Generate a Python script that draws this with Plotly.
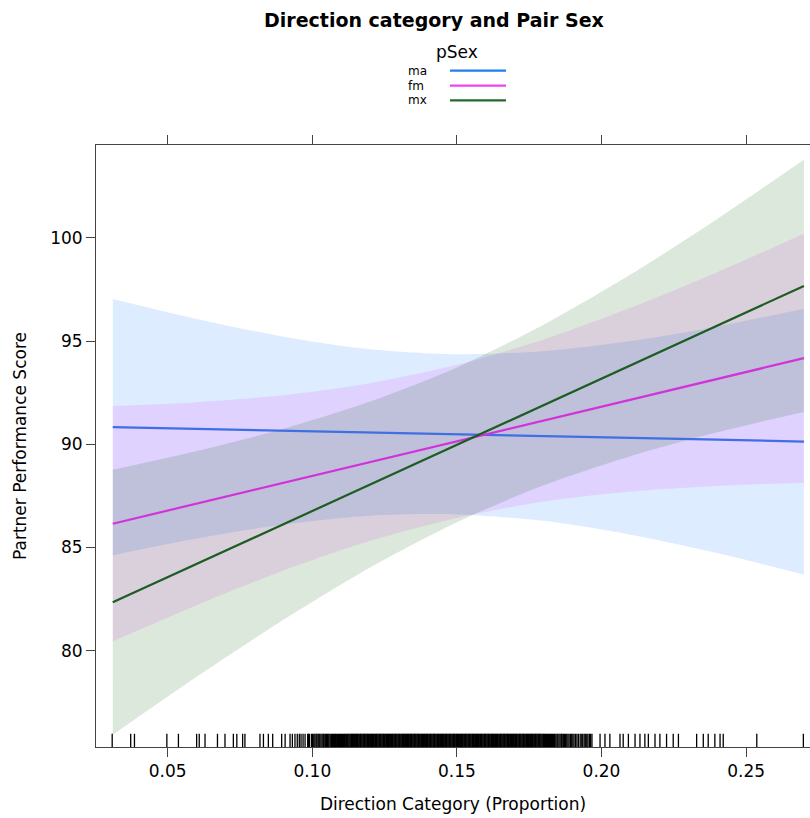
import plotly.graph_objects as go

# ---------------- data ----------------
groups = ["ma", "fm", "mx"]
x_grid = [0.031, 0.06, 0.09, 0.12, 0.15, 0.18, 0.21, 0.24, 0.27]

fit_ma = [90.83, 90.75, 90.66, 90.57, 90.48, 90.40, 90.31, 90.22, 90.13]
upper_ma = [97.04, 96.07, 95.21, 94.60, 94.36, 94.51, 95.00, 95.71, 96.57]
lower_ma = [84.62, 85.43, 86.11, 86.54, 86.60, 86.29, 85.62, 84.73, 83.69]

fit_fm = [86.15, 87.12, 88.13, 89.14, 90.14, 91.15, 92.16, 93.16, 94.17]
upper_fm = [91.85, 92.04, 92.38, 92.96, 93.85, 95.08, 96.61, 98.34, 100.20]
lower_fm = [80.45, 82.20, 83.88, 85.32, 86.43, 87.22, 87.71, 87.98, 88.14]

fit_mx = [82.34, 84.20, 86.12, 88.05, 89.97, 91.90, 93.82, 95.75, 97.67]
upper_mx = [88.76, 89.67, 90.75, 92.07, 93.72, 95.79, 98.22, 100.92, 103.78]
lower_mx = [75.92, 78.73, 81.49, 84.03, 86.22, 88.01, 89.42, 90.58, 91.56]

rug_x = [
    0.0308, 0.0372, 0.0385, 0.0497, 0.0537, 0.0600, 0.0609, 0.0629, 0.0672,
    0.0698, 0.0727, 0.0739, 0.0759, 0.0767, 0.0819, 0.0831, 0.0848, 0.0863,
    0.0894, 0.0906, 0.0923,
    0.0931, 0.0940, 0.0948, 0.0955, 0.0961, 0.0968, 0.0975, 0.0984, 0.0990,
    0.0997, 0.1005, 0.1013, 0.1020, 0.1026, 0.1034, 0.1041, 0.1049, 0.1055,
    0.1062, 0.1070, 0.1077, 0.1083, 0.1091, 0.1098, 0.1104, 0.1111, 0.1118,
    0.1124, 0.1130, 0.1136, 0.1142, 0.1147, 0.1153, 0.1158, 0.1164, 0.1169,
    0.1175, 0.1180, 0.1186, 0.1191, 0.1197, 0.1202, 0.1208, 0.1213, 0.1219,
    0.1224, 0.1230, 0.1235, 0.1241, 0.1246, 0.1252, 0.1257, 0.1263, 0.1268,
    0.1274, 0.1279, 0.1285, 0.1290, 0.1296, 0.1301, 0.1307, 0.1312, 0.1318,
    0.1323, 0.1329, 0.1334, 0.1340, 0.1345, 0.1351, 0.1356, 0.1362, 0.1367,
    0.1373, 0.1378, 0.1384, 0.1389, 0.1395, 0.1400, 0.1406, 0.1411, 0.1417,
    0.1422, 0.1428, 0.1433, 0.1439, 0.1444, 0.1450, 0.1455, 0.1461, 0.1466,
    0.1472, 0.1477, 0.1483, 0.1488, 0.1494, 0.1499, 0.1505, 0.1510, 0.1516,
    0.1521, 0.1527, 0.1532, 0.1538, 0.1543, 0.1549, 0.1554, 0.1560, 0.1565,
    0.1571, 0.1576, 0.1582, 0.1587, 0.1593, 0.1598, 0.1604, 0.1609, 0.1615,
    0.1620, 0.1626, 0.1631, 0.1637, 0.1642, 0.1648, 0.1653, 0.1659, 0.1664,
    0.1670, 0.1675, 0.1681, 0.1686, 0.1692, 0.1697, 0.1703, 0.1708, 0.1714,
    0.1719, 0.1725, 0.1730, 0.1736, 0.1741, 0.1747, 0.1752, 0.1758, 0.1763,
    0.1769, 0.1774, 0.1780, 0.1785, 0.1791, 0.1797, 0.1803, 0.1810, 0.1817,
    0.1824, 0.1831, 0.1838, 0.1846, 0.1853, 0.1861, 0.1868, 0.1876, 0.1884,
    0.1893, 0.1901, 0.1910, 0.1926, 0.1935, 0.1944, 0.1953, 0.1962,
    0.1995, 0.2012, 0.2029, 0.2064, 0.2075, 0.2093, 0.2116, 0.2133, 0.2150,
    0.2162, 0.2185, 0.2202, 0.2225, 0.2248, 0.2266, 0.2329, 0.2352, 0.2369,
    0.2392, 0.2410, 0.2421, 0.2537, 0.2698,
    # further observations in the dense middle of the distribution
    0.0987, 0.1001, 0.1009, 0.1016, 0.1023, 0.1030, 0.1038, 0.1045, 0.1052,
    0.1058, 0.1066, 0.1073, 0.1080, 0.1087, 0.1094, 0.1101, 0.1108, 0.1114,
    0.1121, 0.1127,
    0.1133, 0.1139, 0.1145, 0.1150, 0.1156, 0.1161, 0.1167, 0.1172, 0.1178,
    0.1183, 0.1189, 0.1194, 0.1200, 0.1205, 0.1211, 0.1216, 0.1222, 0.1227,
    0.1233, 0.1238, 0.1244, 0.1249, 0.1255, 0.1260, 0.1266, 0.1271, 0.1277,
    0.1282, 0.1288, 0.1293, 0.1299, 0.1304, 0.1310, 0.1315, 0.1321, 0.1326,
    0.1332, 0.1337, 0.1343, 0.1348, 0.1354, 0.1359, 0.1365, 0.1370, 0.1376,
    0.1381, 0.1387, 0.1392, 0.1398, 0.1403, 0.1409, 0.1414, 0.1420, 0.1425,
    0.1431, 0.1436, 0.1442, 0.1447, 0.1453, 0.1458, 0.1464, 0.1469, 0.1475,
    0.1480, 0.1486, 0.1491, 0.1497, 0.1502, 0.1508, 0.1513, 0.1519, 0.1524,
    0.1530, 0.1535, 0.1541, 0.1546, 0.1552, 0.1557, 0.1563, 0.1568, 0.1574,
    0.1579, 0.1585, 0.1590, 0.1596, 0.1601, 0.1607, 0.1612, 0.1618, 0.1623,
    0.1629, 0.1634, 0.1640, 0.1645, 0.1651, 0.1656, 0.1662, 0.1667, 0.1673,
    0.1678, 0.1684, 0.1689, 0.1695, 0.1700, 0.1706, 0.1711, 0.1717, 0.1722,
    0.1728, 0.1733, 0.1739, 0.1744, 0.1750, 0.1755, 0.1761, 0.1766, 0.1772,
    0.1777, 0.1783, 0.1788, 0.1794, 0.1800, 0.1806, 0.1813, 0.1820, 0.1827,
    0.1834, 0.1842, 0.1849, 0.1857, 0.1864, 0.1872, 0.1880, 0.1888, 0.1897,
    0.1905, 0.1915, 0.1920, 0.1930, 0.1940, 0.1949, 0.1958, 0.1967,
]

x_ticks = [0.05, 0.10, 0.15, 0.20, 0.25]
y_ticks = [80, 85, 90, 95, 100]

# ---------------- style ----------------
FONT = "DejaVu Sans, Liberation Sans, Arial, sans-serif"
line_colors = {"ma": "#3f6fe3", "fm": "#d233d8", "mx": "#1d5c22"}
legend_colors = {"ma": "#1f7ff0", "fm": "#f043f0", "mx": "#236b2c"}
band_colors = {
    "ma": "rgba(0,110,255,0.13)",
    "fm": "rgba(240,0,255,0.11)",
    "mx": "rgba(0,90,0,0.14)",
}

fits = {"ma": fit_ma, "fm": fit_fm, "mx": fit_mx}
uppers = {"ma": upper_ma, "fm": upper_fm, "mx": upper_mx}
lowers = {"ma": lower_ma, "fm": lower_fm, "mx": lower_mx}

W, H = 810, 818
ML, MR, MT, MB = 96, 0, 145, 71
PW, PH = W - ML - MR, H - MT - MB


def px_x(px):
    return (px - ML) / PW


def px_y(py):
    return (H - MB - py) / PH


fig = go.Figure()

for g in groups:
    fig.add_trace(go.Scatter(
        x=x_grid, y=lowers[g], mode="lines",
        line=dict(width=0, shape="spline", smoothing=0.8),
        hoverinfo="skip", showlegend=False,
    ))
    fig.add_trace(go.Scatter(
        x=x_grid, y=uppers[g], mode="lines", fill="tonexty",
        fillcolor=band_colors[g],
        line=dict(width=0, shape="spline", smoothing=0.8),
        hoverinfo="skip", showlegend=False,
    ))

for g in groups:
    fig.add_trace(go.Scatter(
        x=x_grid, y=fits[g], mode="lines", name=g,
        line=dict(color=line_colors[g], width=2.2),
        showlegend=False,
    ))

fig.add_trace(go.Scatter(
    x=rug_x, y=[0.0092] * len(rug_x), mode="markers", yaxis="y2",
    marker=dict(symbol="line-ns", size=11, line=dict(width=1.3, color="#000")),
    hoverinfo="skip", showlegend=False,
))

annotations = [
    dict(text="<b>Direction category and Pair Sex</b>", x=px_x(434), y=px_y(20),
         xref="paper", yref="paper", showarrow=False, xanchor="center", yanchor="middle",
         font=dict(family=FONT, size=19, color="#000")),
    dict(text="pSex", x=px_x(457), y=px_y(52), xref="paper", yref="paper",
         showarrow=False, xanchor="center", yanchor="middle",
         font=dict(family=FONT, size=17, color="#000")),
]
shapes = []
legend_rows = {"ma": 70.7, "fm": 85.7, "mx": 100.3}
for g in groups:
    annotations.append(dict(
        text=g, x=px_x(406), y=px_y(legend_rows[g]), xref="paper", yref="paper",
        showarrow=False, xanchor="left", yanchor="middle",
        font=dict(family=FONT, size=12, color="#000")))
    shapes.append(dict(
        type="line", xref="paper", yref="paper",
        x0=px_x(450), x1=px_x(506), y0=px_y(legend_rows[g]), y1=px_y(legend_rows[g]),
        line=dict(color=legend_colors[g], width=2.2)))

fig.update_layout(
    width=W, height=H,
    margin=dict(l=ML, r=MR, t=MT, b=MB, pad=0),
    paper_bgcolor="white", plot_bgcolor="white",
    font=dict(family=FONT, size=17, color="#000"),
    xaxis=dict(
        range=[0.0252, 0.2721], tickvals=x_ticks, ticktext=[f"{v:.2f}" for v in x_ticks],
        showline=True, linecolor="#444", linewidth=1, mirror="ticks",
        ticks="outside", ticklen=9, tickcolor="#444", showgrid=False, zeroline=False,
        title=dict(text="Direction Category (Proportion)", standoff=17,
                   font=dict(family=FONT, size=17)),
        tickfont=dict(family=FONT, size=17),
    ),
    yaxis=dict(
        range=[75.33, 104.5], tickvals=y_ticks,
        showline=True, linecolor="#444", linewidth=1, mirror=False,
        ticks="outside", ticklen=9, tickcolor="#444", showgrid=False, zeroline=False,
        title=dict(text="Partner Performance Score", standoff=19,
                   font=dict(family=FONT, size=17)),
        tickfont=dict(family=FONT, size=17),
    ),
    yaxis2=dict(range=[0, 1], overlaying="y", visible=False, fixedrange=True),
    annotations=annotations,
    shapes=shapes,
    showlegend=False,
)

fig.write_html("out.html")
